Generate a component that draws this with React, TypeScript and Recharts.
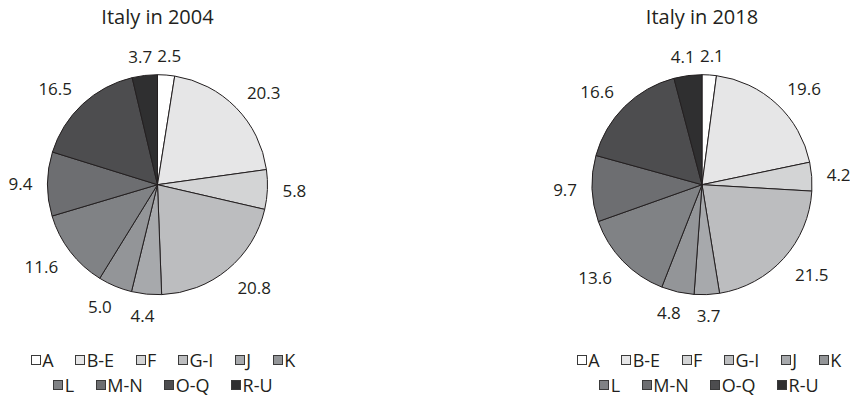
import React from 'react';
import { PieChart, Pie, Cell } from 'recharts';

const CATEGORIES = ['A', 'B-E', 'F', 'G-I', 'J', 'K', 'L', 'M-N', 'O-Q', 'R-U'];
const VALUES_2004 = [2.5, 20.3, 5.8, 20.8, 4.4, 5.0, 11.6, 9.4, 16.5, 3.7];
const VALUES_2018 = [2.1, 19.6, 4.2, 21.5, 3.7, 4.8, 13.6, 9.7, 16.6, 4.1];
const TITLES = ['Italy in 2004', 'Italy in 2018'];
const COLORS = ['#ffffff', '#e6e6e7', '#d3d4d5', '#bcbdbf', '#a7a9ac', '#939598', '#808285', '#6d6e71', '#4d4d4f', '#2f2f30'];

const FONT = "'Open Sans', 'Noto Sans', sans-serif";
const LABEL_FS = 17;
const LEGEND_FS = 18;
const INK = '#231f20';

const data2004 = CATEGORIES.map((name, i) => ({ name, value: VALUES_2004[i] }));
const data2018 = CATEGORIES.map((name, i) => ({ name, value: VALUES_2018[i] }));

const PIES = [
  { data: data2004, cx: 157.5, cy: 184.7, legendCx: 163, title: TITLES[0] },
  { data: data2018, cx: 702, cy: 184.7, legendCx: 709, title: TITLES[1] },
];

const clamp = (v: number) => Math.max(-1, Math.min(1, v));

const renderLabel = (props: any) => {
  const { cx, cy, midAngle, outerRadius, value, index } = props;
  const rad = Math.PI / 180;
  const c = Math.cos(midAngle * rad);
  const s = Math.sin(midAngle * rad);
  const R = outerRadius + 14.5;
  const px = cx + R * c;
  const py = cy - R * s;
  const txt = Number(value).toFixed(1);
  const digits = txt.replace('.', '').length;
  const hw = (digits * 0.572 * LABEL_FS + 0.266 * LABEL_FS) / 2 + 0.5;
  const x = px + hw * clamp(2 * c);
  const y = py - (s > 0 ? 4.5 : 7) * clamp(2 * s);
  return (
    <text
      key={`lbl-${index}`}
      x={x}
      y={y + 0.357 * LABEL_FS}
      textAnchor="middle"
      fill={INK}
      fontSize={LABEL_FS}
      fontFamily={FONT}
    >
      {txt}
    </text>
  );
};

const LegendRow = ({ items, top, centerX }: { items: string[]; top: number; centerX: number }) => (
  <div
    style={{
      position: 'absolute',
      left: centerX - 200,
      width: 400,
      top,
      height: 25,
      lineHeight: '25px',
      display: 'flex',
      justifyContent: 'center',
      alignItems: 'center',
      fontSize: LEGEND_FS,
      fontFamily: FONT,
      color: INK,
      whiteSpace: 'nowrap',
    }}
  >
    {items.map((name, i) => {
      const idx = CATEGORIES.indexOf(name);
      return (
        <div
          key={name}
          style={{ display: 'flex', alignItems: 'center', marginLeft: i === 0 ? 0 : 21.5, flexShrink: 0 }}
        >
          <span
            style={{
              display: 'inline-block',
              width: 10,
              height: 10,
              flexShrink: 0,
              boxSizing: 'border-box',
              background: COLORS[idx],
              border: '1px solid #3a3a3a',
              marginRight: 1.5,
            }}
          />
          <span>{name}</span>
        </div>
      );
    })}
  </div>
);

export default function App() {
  return (
    <div
      style={{
        position: 'absolute',
        left: 0,
        top: 0,
        width: 850,
        height: 395,
        background: '#ffffff',
        fontFamily: FONT,
        overflow: 'hidden',
      }}
    >
      <PieChart width={850} height={395} margin={{ top: 0, right: 0, bottom: 0, left: 0 }}>
        {PIES.map((p, k) => (
          <Pie
            key={k}
            data={p.data}
            dataKey="value"
            nameKey="name"
            cx={p.cx}
            cy={p.cy}
            outerRadius={110}
            startAngle={90}
            endAngle={-270}
            stroke={INK}
            strokeWidth={1}
            label={renderLabel}
            labelLine={false}
            isAnimationActive={false}
          >
            {p.data.map((d, i) => (
              <Cell key={d.name} fill={COLORS[i]} />
            ))}
          </Pie>
        ))}
      </PieChart>
      {PIES.map((p, k) => (
        <div
          key={`t-${k}`}
          style={{
            position: 'absolute',
            left: p.cx - 150,
            width: 300,
            top: 7,
            lineHeight: '20px',
            fontSize: 20,
            textAlign: 'center',
            color: INK,
            fontFamily: FONT,
          }}
        >
          {p.title}
        </div>
      ))}
      {PIES.map((p, k) => (
        <React.Fragment key={`l-${k}`}>
          <LegendRow items={CATEGORIES.slice(0, 6)} top={347.5} centerX={p.legendCx} />
          <LegendRow items={CATEGORIES.slice(6)} top={372.5} centerX={p.legendCx} />
        </React.Fragment>
      ))}
    </div>
  );
}
